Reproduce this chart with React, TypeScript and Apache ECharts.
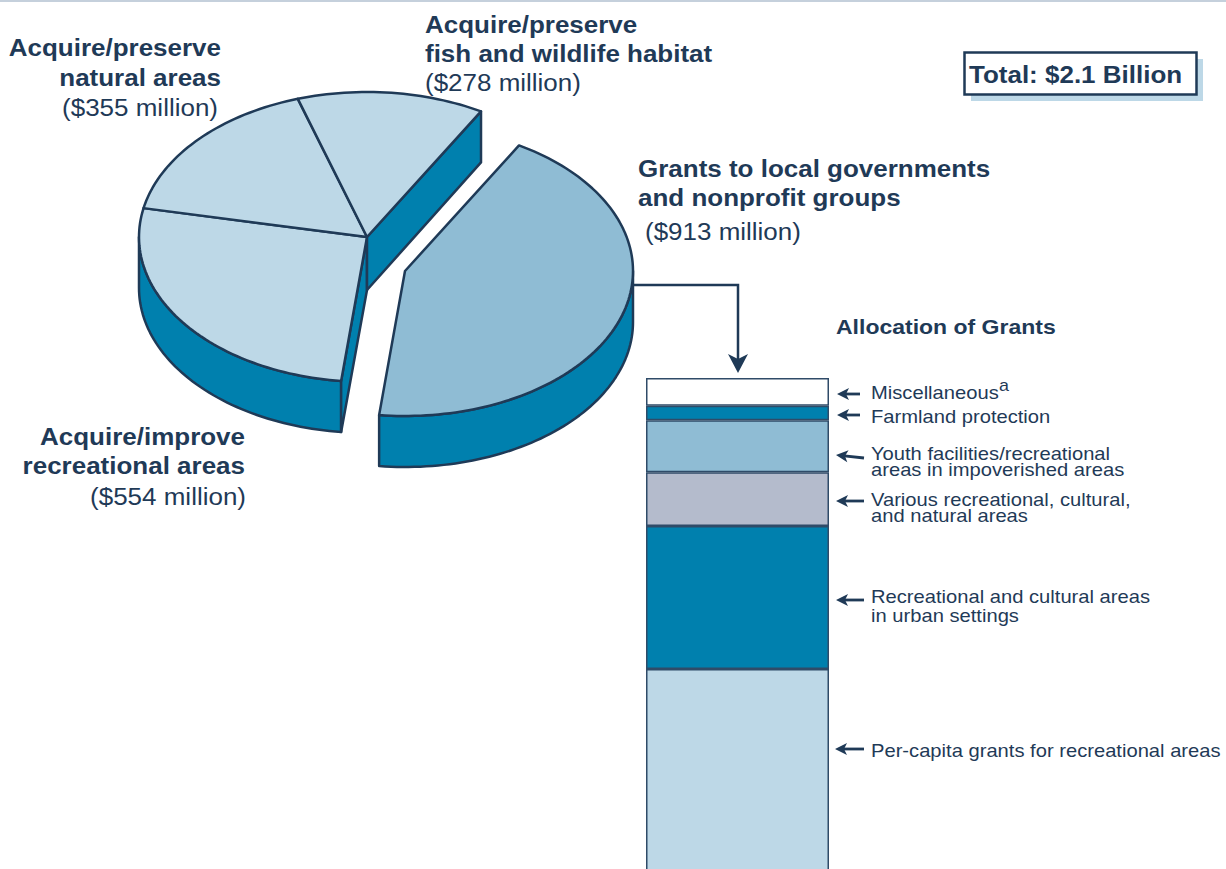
import React, { useEffect, useRef } from "react";
import * as echarts from "echarts";

// Bond spending by purpose, in millions of dollars.
const pieNames = [
  "Grants to local governments and nonprofit groups",
  "Acquire/improve recreational areas",
  "Acquire/preserve natural areas",
  "Acquire/preserve fish and wildlife habitat",
];
const pieValues = [913, 554, 355, 278];

// Allocation of the grants slice, top of the column first.
const grantCategories = [
  "Miscellaneous",
  "Farmland protection",
  "Youth facilities/recreational\nareas in impoverished areas",
  "Various recreational, cultural,\nand natural areas",
  "Recreational and cultural areas\nin urban settings",
  "Per-capita grants for recreational areas",
];
const grantValues = [39, 20, 73, 75, 200, 506];

const NAVY = "#1F3A57";
const LIGHT = "#BDD8E7";
const MID = "#8FBCD4";
const TEAL = "#0080AE";
const GREY = "#B4BBCC";

const grantColors = ["#FFFFFF", TEAL, MID, GREY, TEAL, LIGHT];
const sliceColors = [MID, LIGHT, LIGHT, LIGHT];

const SANS = "'Liberation Sans', Arial, sans-serif";

// Pie geometry: a tilted disc, with the first slice pulled out of it.
const CENTER = [367, 237];
const RX = 228;
const RY = 145;
const DEPTH = 51;
const START_DEG = -60;
const EXPLODE = [38, 34];

function arcPoints(cx: number, cy: number, from: number, to: number) {
  const pts: number[][] = [];
  const steps = Math.max(2, Math.ceil(Math.abs(to - from) / 1.5));
  for (let i = 0; i <= steps; i++) {
    const t = ((from + ((to - from) * i) / steps) * Math.PI) / 180;
    pts.push([cx + RX * Math.cos(t), cy + RY * Math.sin(t)]);
  }
  return pts;
}

function renderSlice(params: any, api: any) {
  const i = params.dataIndex;
  const total = pieValues.reduce((a, b) => a + b, 0);
  const before = pieValues.slice(0, i).reduce((a, b) => a + b, 0);
  const a0 = START_DEG + (before / total) * 360;
  const a1 = a0 + (api.value(0) / total) * 360;
  const cx = CENTER[0] + (i === 0 ? EXPLODE[0] : 0);
  const cy = CENTER[1] + (i === 0 ? EXPLODE[1] : 0);
  const faceStyle = (fill: string) => ({ fill, stroke: NAVY, lineWidth: 2.5, lineJoin: "round" });
  const children: any[] = [];

  // Rim: only the part of the arc on the near side of the disc shows.
  const lo = Math.max(a0, 0);
  const hi = Math.min(a1, 180);
  if (hi > lo) {
    const top = arcPoints(cx, cy, lo, hi);
    const bottom = top.map(([x, y]) => [x, y + DEPTH]).reverse();
    children.push({ type: "polygon", shape: { points: [...top, ...bottom] }, style: faceStyle(TEAL) });
  }

  // Cut faces exposed by the gap beside the pulled-out slice.
  const cutAngles = i === 1 ? [a0] : i === pieValues.length - 1 ? [a1] : [];
  cutAngles.forEach((deg) => {
    const [edge] = arcPoints(cx, cy, deg, deg);
    children.push({
      type: "polygon",
      shape: {
        points: [
          [cx, cy],
          edge,
          [edge[0], edge[1] + DEPTH],
          [cx, cy + DEPTH + 2],
        ],
      },
      style: faceStyle(TEAL),
    });
  });

  children.push({
    type: "polygon",
    shape: { points: [[cx, cy], ...arcPoints(cx, cy, a0, a1)] },
    style: faceStyle(sliceColors[i]),
  });
  return { type: "group", children };
}

function caption(
  text: string,
  x: number,
  y: number,
  opts: { align?: string; fontSize?: number; bold?: boolean; stretch?: number; lineHeight?: number } = {}
) {
  const { align = "left", fontSize = 24, bold = false, stretch = 1.083, lineHeight } = opts;
  return {
    type: "text",
    x,
    y,
    scaleX: stretch,
    z: 10,
    style: {
      text,
      fontFamily: SANS,
      fontWeight: bold ? "bold" : "normal",
      fontSize,
      lineHeight,
      fill: NAVY,
      align,
      verticalAlign: "middle",
    },
  };
}

const boldLine = (text: string, x: number, y: number, align = "left") => caption(text, x, y, { align, bold: true });
const plainLine = (text: string, x: number, y: number, align = "left") => caption(text, x, y, { align });
const itemLabel = (text: string, y: number) =>
  caption(text, 871, y, { fontSize: 18, stretch: 1.12, lineHeight: 16 });

function arrow(tipX: number, tipY: number, tailX: number, tailY: number) {
  const dx = tailX - tipX;
  const dy = tailY - tipY;
  const len = Math.hypot(dx, dy);
  const ux = dx / len;
  const uy = dy / len;
  const at = (along: number, across: number) => [tipX + ux * along - uy * across, tipY + uy * along + ux * across];
  return [
    {
      type: "line",
      z: 10,
      shape: { x1: at(6, 0)[0], y1: at(6, 0)[1], x2: tailX, y2: tailY },
      style: { stroke: NAVY, lineWidth: 2.8 },
    },
    {
      type: "polygon",
      z: 10,
      shape: { points: [at(0, 0), at(12, 6), at(9, 0), at(12, -6)] },
      style: { fill: NAVY },
    },
  ];
}

const money = (v: number) => `($${v} million)`;

export default function App() {
  const ref = useRef<HTMLDivElement>(null);

  useEffect(() => {
    document.body.style.margin = "0";
    const chart = echarts.init(ref.current!, null, { renderer: "svg" });
    chart.setOption({
      animation: false,
      backgroundColor: "#FFFFFF",
      grid: { left: 646, top: 378, width: 183, height: 491 },
      xAxis: { type: "category", data: ["Allocation of Grants"], show: false },
      yAxis: { type: "value", inverse: true, min: 0, max: 687, show: false },
      series: [
        ...grantCategories.map((name, i) => ({
          type: "bar",
          name,
          stack: "grants",
          barWidth: "100%",
          clip: false,
          silent: true,
          data: [grantValues[i]],
          itemStyle: { color: grantColors[i], borderColor: "#2F4B68", borderWidth: 1.5 },
        })),
        {
          type: "custom",
          coordinateSystem: "none",
          silent: true,
          renderItem: renderSlice,
          data: pieValues.map((value, i) => ({ name: pieNames[i], value })),
        },
      ],
      graphic: [
        // Rule along the top edge of the page
        { type: "rect", shape: { x: 0, y: 0, width: 1226, height: 2 }, style: { fill: "#C5D0DC" } },

        // Total box with its offset shadow
        { type: "rect", z: 8, shape: { x: 971, y: 59, width: 232, height: 42 }, style: { fill: LIGHT } },
        {
          type: "rect",
          z: 9,
          shape: { x: 964.5, y: 52.5, width: 232, height: 42 },
          style: { fill: "#FFFFFF", stroke: NAVY, lineWidth: 2.5 },
        },
        boldLine("Total: $2.1 Billion", 969, 74),

        // Slice captions
        boldLine("Acquire/preserve", 221, 47, "right"),
        boldLine("natural areas", 221, 77, "right"),
        plainLine(money(pieValues[2]), 218, 107, "right"),

        boldLine("Acquire/preserve", 425, 24),
        boldLine("fish and wildlife habitat", 425, 53),
        plainLine(money(pieValues[3]), 425, 82),

        boldLine("Grants to local governments", 638, 168),
        boldLine("and nonprofit groups", 638, 197),
        plainLine(money(pieValues[0]), 645, 231),

        boldLine("Acquire/improve", 245, 436, "right"),
        boldLine("recreational areas", 245, 465, "right"),
        plainLine(money(pieValues[1]), 246, 496, "right"),

        // Connector from the grants slice down to the column
        {
          type: "polyline",
          z: 10,
          shape: { points: [[634, 285], [738, 285], [738, 362]] },
          style: { stroke: NAVY, lineWidth: 2.5, fill: "none" },
        },
        {
          type: "polygon",
          z: 10,
          shape: { points: [[738, 373], [728, 354], [738, 359], [748, 354]] },
          style: { fill: NAVY },
        },

        // Column title, item captions and their pointers
        caption("Allocation of Grants", 836, 327, { bold: true, fontSize: 20, stretch: 1.15 }),

        itemLabel(grantCategories[0], 393),
        caption("a", 999, 386, { fontSize: 16, stretch: 1.12 }),
        itemLabel(grantCategories[1], 417),
        itemLabel(grantCategories[2], 462),
        itemLabel(grantCategories[3], 508),
        caption(grantCategories[4], 871, 606, { fontSize: 18, stretch: 1.12, lineHeight: 19 }),
        itemLabel(grantCategories[5], 751),

        ...arrow(837, 394, 860, 394),
        ...arrow(837, 415, 860, 415),
        ...arrow(836, 455, 864, 458),
        ...arrow(836, 501, 864, 501),
        ...arrow(836, 600, 864, 600),
        ...arrow(835, 749, 864, 749),
      ],
    });
    return () => chart.dispose();
  }, []);

  return <div ref={ref} style={{ width: 1226, height: 869 }} />;
}
